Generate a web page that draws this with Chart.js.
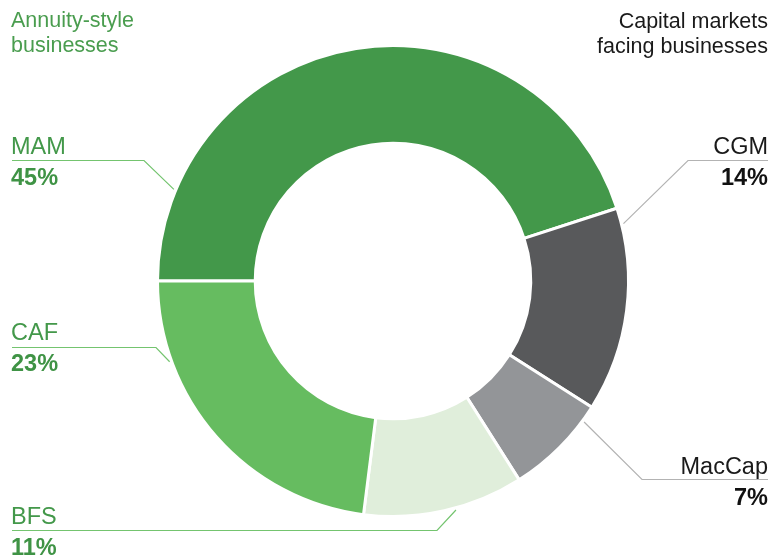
<!DOCTYPE html>
<html lang="en">
<head>
    <meta charset="UTF-8">
    <title>Business mix</title>
    <script src="https://cdn.jsdelivr.net/npm/chart.js"></script>
    <style>
        html, body {
            margin: 0;
            padding: 0;
            background: #ffffff;
        }
        .wrap {
            position: relative;
            width: 770px;
            height: 558px;
        }
    </style>
</head>
<body>

<div class="wrap">
    <canvas id="mixChart" width="770" height="558"></canvas>
</div>

<script>
    // Share of the business mix, clockwise from 9 o'clock
    const segments = ['MAM', 'CGM', 'MacCap', 'BFS', 'CAF'];
    const shares = [45, 14, 7, 11, 23];
    const shareLabels = ['45%', '14%', '7%', '11%', '23%'];
    const segmentColors = ['#43984a', '#58595b', '#939598', '#e0eedb', '#66bc60'];

    // Callouts: where the leader touches the ring (fraction along the arc),
    // where the elbow sits, and which side the text hangs on
    const callouts = [
        { t: 0.14, elbow: [144, 160.5], end: 12, side: 'left', green: true, top: 154 },
        { t: 0.08, elbow: [688, 160.5], end: 768, side: 'right', green: false, top: 154 },
        { t: 0.16, elbow: [642, 479.5], end: 768, side: 'right', green: false, top: 474 },
        { t: 0.43, elbow: [437, 530.5], end: 12, side: 'left', green: true, top: 524 },
        { t: 0.76, elbow: [156, 347.5], end: 12, side: 'left', green: true, top: 340 }
    ];

    const FONT = '"Liberation Sans", Arial, Helvetica, sans-serif';

    const calloutPlugin = {
        id: 'callouts',
        afterDraw(chart) {
            const ctx = chart.ctx;
            const arcs = chart.getDatasetMeta(0).data;
            ctx.save();

            // group headings
            ctx.font = '21.5px ' + FONT;
            ctx.textBaseline = 'alphabetic';
            ctx.fillStyle = '#4a9d4f';
            ctx.textAlign = 'left';
            ctx.fillText('Annuity-style', 11, 27);
            ctx.fillText('businesses', 11, 52);
            ctx.fillStyle = '#1a1a1a';
            ctx.textAlign = 'right';
            ctx.fillText('Capital markets', 768, 28);
            ctx.fillText('facing businesses', 768, 53);

            callouts.forEach((c, i) => {
                const arc = arcs[i];
                const a = arc.startAngle + c.t * (arc.endAngle - arc.startAngle);
                const r = arc.outerRadius + 2;
                const px = arc.x + r * Math.cos(a);
                const py = arc.y + r * Math.sin(a);

                ctx.beginPath();
                ctx.moveTo(px, py);
                ctx.lineTo(c.elbow[0], c.elbow[1]);
                ctx.lineTo(c.end, c.elbow[1]);
                ctx.lineWidth = 1.2;
                ctx.strokeStyle = c.green ? '#74c46f' : '#b3b3b3';
                ctx.stroke();

                ctx.textAlign = c.side;
                const x = c.side === 'left' ? c.end - 1 : c.end;
                ctx.fillStyle = c.green ? '#43984a' : '#1a1a1a';
                ctx.font = '23.5px ' + FONT;
                ctx.fillText(segments[i], x, c.top);
                ctx.fillStyle = c.green ? '#3f9345' : '#111111';
                ctx.font = 'bold 23.5px ' + FONT;
                ctx.fillText(shareLabels[i], x, c.top + 31);
            });
            ctx.restore();
        }
    };

    new Chart(document.getElementById('mixChart'), {
        type: 'doughnut',
        data: {
            labels: segments,
            datasets: [{
                data: shares,
                backgroundColor: segmentColors,
                borderColor: '#ffffff',
                borderWidth: 3
            }]
        },
        options: {
            responsive: false,
            animation: false,
            rotation: -90,
            cutout: '58.5%',
            layout: {
                padding: { top: 44, bottom: 40, left: 156, right: 140 }
            },
            plugins: {
                legend: { display: false },
                tooltip: { enabled: false }
            }
        },
        plugins: [calloutPlugin]
    });
</script>

</body>
</html>
